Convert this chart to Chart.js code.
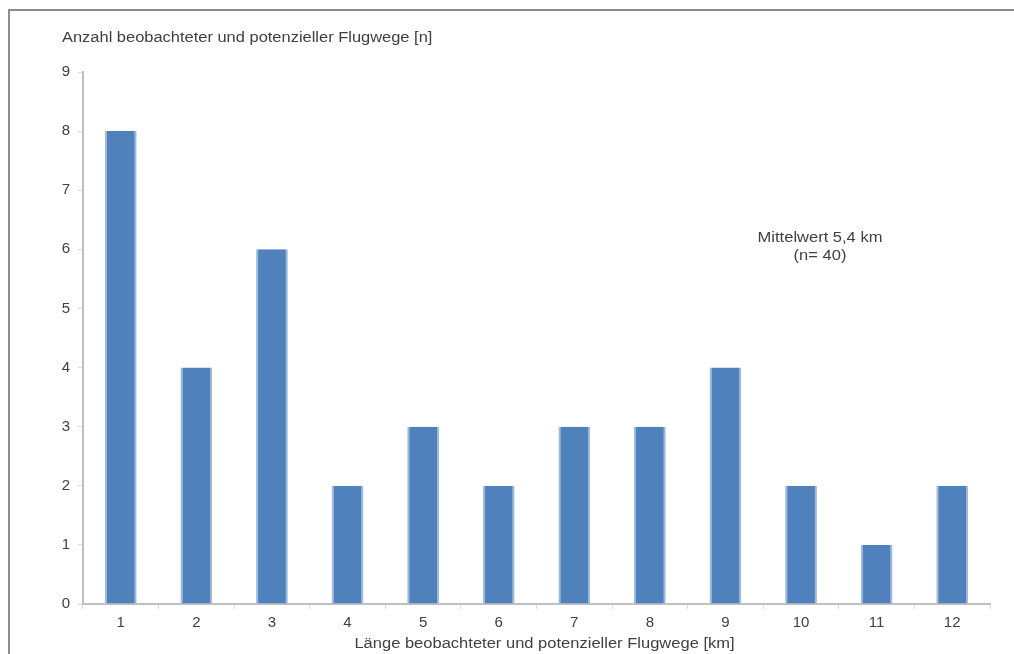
<!DOCTYPE html>
<html>
<head>
<meta charset="utf-8">
<script src="https://cdn.jsdelivr.net/npm/chart.js@4.4.1/dist/chart.umd.min.js"></script>
<style>
html,body{margin:0;padding:0;background:#fff;}
#wrap{width:1014px;height:654px;position:relative;}
</style>
</head>
<body>
<div id="wrap"><canvas id="c" width="1014" height="654"></canvas></div>
<script>
const categories = ['1','2','3','4','5','6','7','8','9','10','11','12'];
const counts = [8,4,6,2,3,2,3,3,4,2,1,2];
const yTitle = 'Anzahl beobachteter und potenzieller Flugwege [n]';
const xTitle = 'Länge beobachteter und potenzieller Flugwege [km]';
const noteLines = ['Mittelwert 5,4 km', '(n= 40)'];

const FONT = '"Liberation Sans", Arial, sans-serif';
const TXT = '#404040';

function stretchText(ctx, text, x, y, align, sx) {
  ctx.save();
  ctx.translate(x, y);
  ctx.scale(sx, 1);
  ctx.textAlign = align;
  ctx.fillText(text, 0, 0);
  ctx.restore();
}

const decor = {
  id: 'decor',
  beforeDraw(chart) {
    const ctx = chart.ctx;
    ctx.save();
    ctx.fillStyle = '#fff';
    ctx.fillRect(0, 0, chart.width, chart.height);
    ctx.strokeStyle = '#8c8c8c';
    ctx.lineWidth = 2;
    ctx.beginPath();
    ctx.moveTo(9, 660);
    ctx.lineTo(9, 10);
    ctx.lineTo(1020, 10);
    ctx.stroke();
    ctx.restore();
  },
  afterDraw(chart) {
    const ctx = chart.ctx;
    const ca = chart.chartArea;
    ctx.save();
    ctx.fillStyle = TXT;
    ctx.font = '14px ' + FONT;
    ctx.textBaseline = 'middle';
    stretchText(ctx, yTitle, 62, 38, 'left', 1.175);
    stretchText(ctx, xTitle, (ca.left + ca.right) / 2 + 8, 644, 'center', 1.18);
    stretchText(ctx, noteLines[0], 820, 238, 'center', 1.18);
    stretchText(ctx, noteLines[1], 820, 256, 'center', 1.18);
    ctx.restore();
  }
};

new Chart(document.getElementById('c'), {
  type: 'bar',
  data: {
    labels: categories,
    datasets: [{
      data: counts,
      backgroundColor: '#4F81BD',
      borderColor: '#9DB9DC',
      borderWidth: {left: 2, right: 2, top: 0, bottom: 0},
      categoryPercentage: 1,
      barPercentage: 0.42
    }]
  },
  options: {
    responsive: false,
    animation: false,
    devicePixelRatio: 1,
    layout: {padding: {left: 0, top: 72, right: 24, bottom: 0}},
    plugins: {legend: {display: false}, tooltip: {enabled: false}, title: {display: false}},
    scales: {
      x: {
        grid: {display: true, drawOnChartArea: false, drawTicks: true, tickLength: 5, color: '#D9D9D9', offset: true},
        border: {display: true, color: '#BFBFBF', width: 2},
        ticks: {color: TXT, font: {family: FONT, size: 15}, padding: 5, maxRotation: 0},
        afterFit(s) { s.height = 50; }
      },
      y: {
        min: 0, max: 9,
        grid: {display: true, drawOnChartArea: false, drawTicks: true, tickLength: 5, color: '#D9D9D9'},
        border: {display: true, color: '#BFBFBF', width: 2},
        ticks: {stepSize: 1, color: TXT, font: {family: FONT, size: 15}, padding: 8},
        afterFit(s) { s.width = 83; }
      }
    }
  },
  plugins: [decor]
});
</script>
</body>
</html>
